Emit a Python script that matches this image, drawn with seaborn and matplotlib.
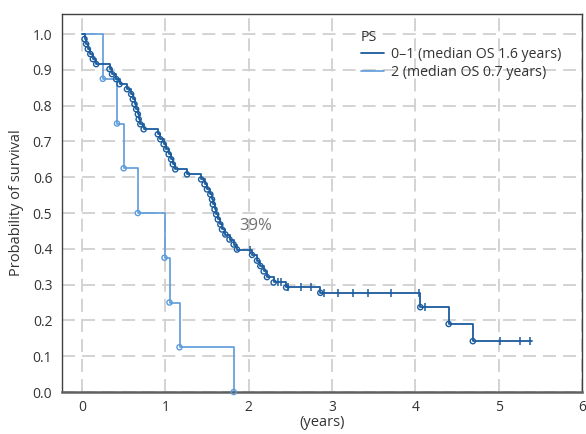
import numpy as np
import pandas as pd
import matplotlib
matplotlib.use("Agg")
import matplotlib.pyplot as plt
import seaborn as sns
from matplotlib.lines import Line2D

# ---- data ----
# PS 0-1: event times (years) and survival after each event
t01 = [0.03, 0.05, 0.07, 0.10, 0.13, 0.17,
       0.33, 0.36, 0.41, 0.45, 0.54, 0.59, 0.61, 0.63, 0.65, 0.67, 0.68, 0.70, 0.74,
       0.91, 0.94, 0.98, 1.01, 1.04, 1.07, 1.09, 1.12, 1.26,
       1.43, 1.47, 1.50, 1.54, 1.56, 1.57, 1.59, 1.61, 1.63, 1.66, 1.68, 1.72, 1.77, 1.82, 1.86,
       2.04, 2.10, 2.14, 2.18, 2.22, 2.30,
       2.45, 2.86, 4.06, 4.40, 4.69]
s01 = [0.986, 0.972, 0.958, 0.944, 0.930, 0.916,
       0.902, 0.888, 0.874, 0.860, 0.846, 0.832, 0.818, 0.804, 0.790, 0.776, 0.762, 0.748, 0.734,
       0.720, 0.706, 0.692, 0.678, 0.664, 0.650, 0.636, 0.622, 0.608,
       0.594, 0.580, 0.566, 0.552, 0.538, 0.524, 0.510, 0.496, 0.482, 0.468, 0.454, 0.440, 0.426, 0.412, 0.398,
       0.383, 0.367, 0.352, 0.337, 0.321, 0.306,
       0.292, 0.277, 0.237, 0.190, 0.142]
c01 = [2.02, 2.35, 2.39, 2.47, 2.63, 2.75, 2.90, 3.07, 3.25, 3.43, 3.71, 4.05, 4.12, 5.02, 5.25, 5.37]
end01 = 5.40

# PS 2
t2 = [0.25, 0.42, 0.50, 0.67, 0.99, 1.05, 1.17, 1.82]
s2 = [0.875, 0.750, 0.625, 0.500, 0.375, 0.250, 0.125, 0.0]

labels = ["0\u20131 (median OS 1.6 years)", "2 (median OS 0.7 years)"]
annot_text = "39%"
annot_t, annot_s = 2.08, 0.463

xticks = [0, 1, 2, 3, 4, 5, 6]
yticks = [0.0, 0.1, 0.2, 0.3, 0.4, 0.5, 0.6, 0.7, 0.8, 0.9, 1.0]

dark = "#1b5c9e"
light = "#5c9bdb"

# ---- build step paths ----
def path(times, surv, end=None):
    tt = [0.0] + list(times)
    ss = [1.0] + list(surv)
    if end is not None:
        tt.append(end)
        ss.append(ss[-1])
    return pd.DataFrame({"t": tt, "s": ss})

def surv_at(times, surv, x):
    idx = np.searchsorted(np.array(times), x, side="right") - 1
    return 1.0 if idx < 0 else surv[idx]

p01 = path(t01, s01, end01)
p2 = path(t2, s2)
cens01 = pd.DataFrame({"t": c01, "s": [surv_at(t01, s01, c) for c in c01]})
ev01 = pd.DataFrame({"t": t01, "s": s01})
ev2 = pd.DataFrame({"t": t2, "s": s2})

sns.set_theme(style="white")
plt.rcParams["font.family"] = ["Open Sans", "DejaVu Sans"]

fig = plt.figure(figsize=(5.86, 4.34), dpi=100)
ax = fig.add_axes([62/586, 42/434, 520/586, 378/434])

ax.set_xlim(-0.24, 6.0)
ax.set_ylim(0, 1.056)
ax.set_xticks(xticks)
ax.set_yticks(yticks)
ax.set_yticklabels([f"{v:.1f}" for v in yticks])
ax.grid(True, color="#d0d0d0", linestyle=(0, (7.2, 3.9)), linewidth=1.3)
ax.set_axisbelow(True)

sns.lineplot(data=p2, x="t", y="s", ax=ax, color=light, linewidth=1.2,
             drawstyle="steps-post", estimator=None, sort=False, legend=False)
sns.lineplot(data=p01, x="t", y="s", ax=ax, color=dark, linewidth=1.3,
             drawstyle="steps-post", estimator=None, sort=False, legend=False)
sns.scatterplot(data=ev2, x="t", y="s", ax=ax, marker="o", s=14,
                facecolor="none", edgecolor=light, linewidth=1.0, zorder=4, legend=False, clip_on=False)
sns.scatterplot(data=ev01, x="t", y="s", ax=ax, marker="o", s=14,
                facecolor="none", edgecolor=dark, linewidth=1.0, zorder=5, legend=False)
sns.scatterplot(data=cens01, x="t", y="s", ax=ax, marker="|", s=40,
                color=dark, linewidth=1.1, zorder=5, legend=False)

ax.text(annot_t, annot_s, annot_text, ha="center", va="center", fontsize=12, color="#707070")

for side in ["left", "right", "top"]:
    ax.spines[side].set_color("#404040")
    ax.spines[side].set_linewidth(1.0)
ax.spines["bottom"].set_color("#606060")
ax.spines["bottom"].set_linewidth(1.8)

ax.tick_params(axis="both", direction="out", length=4, width=1, color="#404040",
               labelsize=10, labelcolor="#333333", pad=3)
ax.tick_params(axis="x", length=0, pad=6)
ax.set_xlabel("(years)", fontsize=10.5, color="#333333", labelpad=0)
ax.set_ylabel("Probability of survival", fontsize=10.5, color="#333333", labelpad=6)

handles = [Line2D([0], [0], color=dark, lw=1.3), Line2D([0], [0], color=light, lw=1.2)]
leg = ax.legend(handles, labels, title="PS", loc="upper right", bbox_to_anchor=(0.979, 0.985),
                frameon=False, fontsize=10.2, title_fontsize=10.2, alignment="left",
                handlelength=1.6, handletextpad=0.5, labelspacing=0.2, borderpad=0.2)
for txt in leg.get_texts():
    txt.set_color("#333333")
leg.get_title().set_color("#333333")

fig.savefig("out.png", dpi=100)
